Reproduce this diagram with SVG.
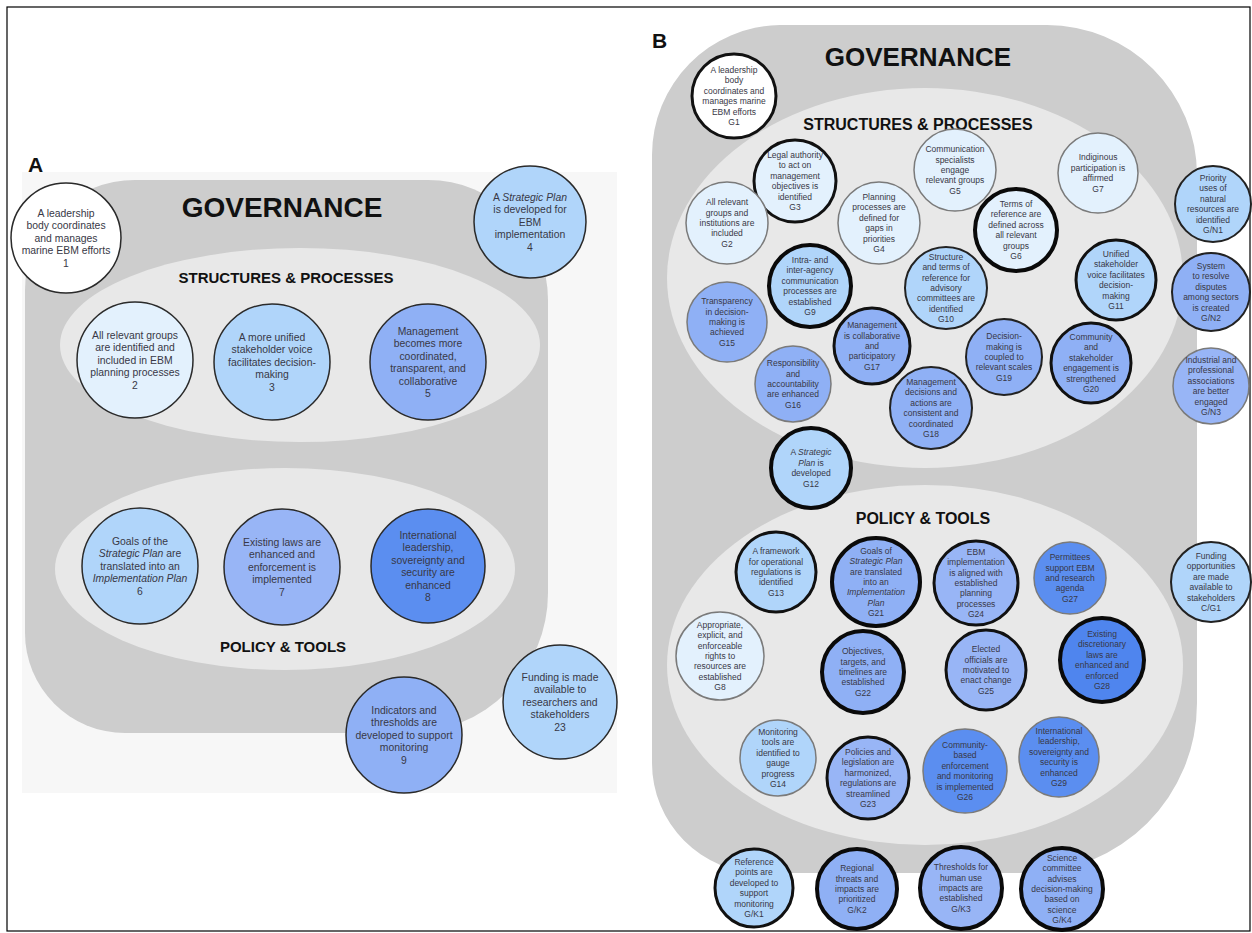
<svg xmlns="http://www.w3.org/2000/svg" width="1252" height="933" viewBox="0 0 1252 933">
<style>
.bg{fill:#ffffff}
.pan{fill:#f7f7f7}
.gray{fill:#cdcdcd}
.ell{fill:#e8e8e8}
.t{font-family:"Liberation Sans",Arial,sans-serif;fill:#383846;text-anchor:middle}
.ta{font-size:10.4px}
.tb{font-size:8.5px}
.h{font-family:"Liberation Sans",Arial,sans-serif;font-weight:bold;fill:#111;text-anchor:middle}
.lab{font-family:"Liberation Sans",Arial,sans-serif;font-weight:bold;fill:#111;font-size:21px}
.i{font-style:italic}
.w{fill:#ffffff}
.c0{fill:#e3f1fd}
.c1{fill:#b0d5fa}
.c2{fill:#8fb0f5}
.c3{fill:#98b5f6}
.c4{fill:#5b8ef0}
.c5{fill:#4f85ee}
.sa{stroke:#2a2a2a;stroke-width:1.5}
.s0{stroke:#7a7a7a;stroke-width:1.5}
.s1{stroke:#222;stroke-width:2}
.s2{stroke:#111;stroke-width:3}
.s3{stroke:#0a0a0a;stroke-width:4}
</style>
<rect class="bg" x="0" y="0" width="1252" height="933"/>
<rect x="7" y="7" width="1243" height="924" fill="none" stroke="#000" stroke-width="1.2"/>

<!-- Panel A -->
<g id="panelA">
<rect class="pan" x="22" y="172" width="595" height="621"/>
<path class="gray" d="M135 180 H428 A120 120 0 0 1 548 300 V593 A140 140 0 0 1 408 733 H125 A100 100 0 0 1 25 633 V290 A110 110 0 0 1 135 180 Z"/>
<ellipse class="ell" cx="300" cy="345" rx="240" ry="97"/>
<ellipse class="ell" cx="285" cy="569" rx="230" ry="101"/>
<text class="lab" x="28" y="172">A</text>
<text class="h" x="282" y="217" font-size="28">GOVERNANCE</text>
<text class="h" x="286" y="283" font-size="15">STRUCTURES &amp; PROCESSES</text>
<text class="h" x="283" y="652" font-size="15">POLICY &amp; TOOLS</text>
</g>

<g id="connectors"></g>

<g id="a1" transform="translate(66,238)"><circle r="55" class="w sa"/><text class="t ta"><tspan x="0" y="-21.3">A leadership</tspan><tspan x="0" y="-8.8">body coordinates</tspan><tspan x="0" y="3.7">and manages</tspan><tspan x="0" y="16.2">marine EBM efforts</tspan><tspan x="0" y="28.7">1</tspan></text></g>
<g id="a4" transform="translate(530,222)"><circle r="56" class="c1 sa"/><text class="t ta"><tspan x="0" y="-21.3">A <tspan class="i">Strategic Plan</tspan></tspan><tspan x="0" y="-8.8">is developed for</tspan><tspan x="0" y="3.7">EBM</tspan><tspan x="0" y="16.2">implementation</tspan><tspan x="0" y="28.7">4</tspan></text></g>
<g id="a2" transform="translate(135,360)"><circle r="58" class="c0 sa"/><text class="t ta"><tspan x="0" y="-21.3">All relevant groups</tspan><tspan x="0" y="-8.8">are identified and</tspan><tspan x="0" y="3.7">included in EBM</tspan><tspan x="0" y="16.2">planning processes</tspan><tspan x="0" y="28.7">2</tspan></text></g>
<g id="a3" transform="translate(272,362)"><circle r="58" class="c1 sa"/><text class="t ta"><tspan x="0" y="-21.3">A more unified</tspan><tspan x="0" y="-8.8">stakeholder voice</tspan><tspan x="0" y="3.7">facilitates decision-</tspan><tspan x="0" y="16.2">making</tspan><tspan x="0" y="28.7">3</tspan></text></g>
<g id="a5" transform="translate(428,362)"><circle r="58" class="c2 sa"/><text class="t ta"><tspan x="0" y="-27.5">Management</tspan><tspan x="0" y="-15">becomes more</tspan><tspan x="0" y="-2.5">coordinated,</tspan><tspan x="0" y="10">transparent, and</tspan><tspan x="0" y="22.5">collaborative</tspan><tspan x="0" y="35">5</tspan></text></g>
<g id="a6" transform="translate(140,566)"><circle r="58" class="c1 sa"/><text class="t ta"><tspan x="0" y="-21.3">Goals of the</tspan><tspan x="0" y="-8.8"><tspan class="i">Strategic Plan</tspan> are</tspan><tspan x="0" y="3.7">translated into an</tspan><tspan x="0" y="16.2" class="i">Implementation Plan</tspan><tspan x="0" y="28.7">6</tspan></text></g>
<g id="a7" transform="translate(282,567)"><circle r="58" class="c3 sa"/><text class="t ta"><tspan x="0" y="-21.3">Existing laws are</tspan><tspan x="0" y="-8.8">enhanced and</tspan><tspan x="0" y="3.7">enforcement is</tspan><tspan x="0" y="16.2">implemented</tspan><tspan x="0" y="28.7">7</tspan></text></g>
<g id="a8" transform="translate(428,566)"><circle r="57" class="c4 sa"/><text class="t ta"><tspan x="0" y="-27.5">International</tspan><tspan x="0" y="-15">leadership,</tspan><tspan x="0" y="-2.5">sovereignty and</tspan><tspan x="0" y="10">security are</tspan><tspan x="0" y="22.5">enhanced</tspan><tspan x="0" y="35">8</tspan></text></g>
<g id="a9" transform="translate(404,735)"><circle r="58" class="c2 sa"/><text class="t ta"><tspan x="0" y="-21.3">Indicators and</tspan><tspan x="0" y="-8.8">thresholds are</tspan><tspan x="0" y="3.7">developed to support</tspan><tspan x="0" y="16.2">monitoring</tspan><tspan x="0" y="28.7">9</tspan></text></g>
<g id="a23" transform="translate(560,702)"><circle r="57" class="c1 sa"/><text class="t ta"><tspan x="0" y="-21.3">Funding is made</tspan><tspan x="0" y="-8.8">available to</tspan><tspan x="0" y="3.7">researchers and</tspan><tspan x="0" y="16.2">stakeholders</tspan><tspan x="0" y="28.7">23</tspan></text></g>

<!-- Panel B -->
<g id="panelB">
<path class="gray" d="M780 25 H1047 A150 150 0 0 1 1197 175 V703 A170 170 0 0 1 1027 873 H762 A110 110 0 0 1 652 763 V155 A130 130 0 0 1 780 25 Z"/>
<ellipse class="ell" cx="925" cy="278" rx="258" ry="190"/>
<ellipse class="ell" cx="925" cy="665" rx="258" ry="180"/>
<text class="lab" x="652" y="48">B</text>
<text class="h" x="918" y="66" font-size="26">GOVERNANCE</text>
<text class="h" x="918" y="130" font-size="16">STRUCTURES &amp; PROCESSES</text>
<text class="h" x="923" y="524" font-size="16">POLICY &amp; TOOLS</text>
</g>

<g id="g1" transform="translate(734,96)"><circle r="42" class="w s2"/><text class="t tb"><tspan x="0" y="-23.1">A leadership</tspan><tspan x="0" y="-12.7">body</tspan><tspan x="0" y="-2.3">coordinates and</tspan><tspan x="0" y="8.1">manages marine</tspan><tspan x="0" y="18.5">EBM efforts</tspan><tspan x="0" y="28.9">G1</tspan></text></g>
<g id="g3" transform="translate(795,181)"><circle r="41" class="c0 s2"/><text class="t tb"><tspan x="0" y="-23.1">Legal authority</tspan><tspan x="0" y="-12.7">to act on</tspan><tspan x="0" y="-2.3">management</tspan><tspan x="0" y="8.1">objectives is</tspan><tspan x="0" y="18.5">identified</tspan><tspan x="0" y="28.9">G3</tspan></text></g>
<g id="g5" transform="translate(955,170)"><circle r="41" class="c0 s0"/><text class="t tb"><tspan x="0" y="-17.9">Communication</tspan><tspan x="0" y="-7.5">specialists</tspan><tspan x="0" y="2.9">engage</tspan><tspan x="0" y="13.3">relevant groups</tspan><tspan x="0" y="23.7">G5</tspan></text></g>
<g id="g7" transform="translate(1098,173)"><circle r="40" class="c0 s0"/><text class="t tb"><tspan x="0" y="-12.7">Indiginous</tspan><tspan x="0" y="-2.3">participation is</tspan><tspan x="0" y="8.1">affirmed</tspan><tspan x="0" y="18.5">G7</tspan></text></g>
<g id="g2" transform="translate(727,223)"><circle r="41" class="c0 s0"/><text class="t tb"><tspan x="0" y="-17.9">All relevant</tspan><tspan x="0" y="-7.5">groups and</tspan><tspan x="0" y="2.9">institutions are</tspan><tspan x="0" y="13.3">included</tspan><tspan x="0" y="23.7">G2</tspan></text></g>
<g id="g4" transform="translate(879,223)"><circle r="41" class="c0 s0"/><text class="t tb"><tspan x="0" y="-23.1">Planning</tspan><tspan x="0" y="-12.7">processes are</tspan><tspan x="0" y="-2.3">defined for</tspan><tspan x="0" y="8.1">gaps in</tspan><tspan x="0" y="18.5">priorities</tspan><tspan x="0" y="28.9">G4</tspan></text></g>
<g id="g6" transform="translate(1016,230)"><circle r="41" class="c0 s3"/><text class="t tb"><tspan x="0" y="-23.1">Terms of</tspan><tspan x="0" y="-12.7">reference are</tspan><tspan x="0" y="-2.3">defined across</tspan><tspan x="0" y="8.1">all relevant</tspan><tspan x="0" y="18.5">groups</tspan><tspan x="0" y="28.9">G6</tspan></text></g>
<g id="gn1" transform="translate(1213,204)"><circle r="38" class="c1 s1"/><text class="t tb"><tspan x="0" y="-23.1">Priority</tspan><tspan x="0" y="-12.7">uses of</tspan><tspan x="0" y="-2.3">natural</tspan><tspan x="0" y="8.1">resources are</tspan><tspan x="0" y="18.5">identified</tspan><tspan x="0" y="28.9">G/N1</tspan></text></g>
<g id="g9" transform="translate(810,286)"><circle r="41" class="c1 s3"/><text class="t tb"><tspan x="0" y="-23.1">Intra- and</tspan><tspan x="0" y="-12.7">inter-agency</tspan><tspan x="0" y="-2.3">communication</tspan><tspan x="0" y="8.1">processes are</tspan><tspan x="0" y="18.5">established</tspan><tspan x="0" y="28.9">G9</tspan></text></g>
<g id="g10" transform="translate(946,288)"><circle r="41" class="c1 s1"/><text class="t tb"><tspan x="0" y="-28.3">Structure</tspan><tspan x="0" y="-17.9">and terms of</tspan><tspan x="0" y="-7.5">reference for</tspan><tspan x="0" y="2.9">advisory</tspan><tspan x="0" y="13.3">committees are</tspan><tspan x="0" y="23.7">identified</tspan><tspan x="0" y="34.1">G10</tspan></text></g>
<g id="g11" transform="translate(1116,280)"><circle r="40" class="c1 s2"/><text class="t tb"><tspan x="0" y="-23.1">Unified</tspan><tspan x="0" y="-12.7">stakeholder</tspan><tspan x="0" y="-2.3">voice facilitates</tspan><tspan x="0" y="8.1">decision-</tspan><tspan x="0" y="18.5">making</tspan><tspan x="0" y="28.9">G11</tspan></text></g>
<g id="gn2" transform="translate(1211,292)"><circle r="39" class="c2 s1"/><text class="t tb"><tspan x="0" y="-23.1">System</tspan><tspan x="0" y="-12.7">to resolve</tspan><tspan x="0" y="-2.3">disputes</tspan><tspan x="0" y="8.1">among sectors</tspan><tspan x="0" y="18.5">is created</tspan><tspan x="0" y="28.9">G/N2</tspan></text></g>
<g id="g15" transform="translate(727,322)"><circle r="40" class="c2 s0"/><text class="t tb"><tspan x="0" y="-17.9">Transparency</tspan><tspan x="0" y="-7.5">in decision-</tspan><tspan x="0" y="2.9">making is</tspan><tspan x="0" y="13.3">achieved</tspan><tspan x="0" y="23.7">G15</tspan></text></g>
<g id="g17" transform="translate(872,346)"><circle r="38" class="c2 s2"/><text class="t tb"><tspan x="0" y="-17.9">Management</tspan><tspan x="0" y="-7.5">is collaborative</tspan><tspan x="0" y="2.9">and</tspan><tspan x="0" y="13.3">participatory</tspan><tspan x="0" y="23.7">G17</tspan></text></g>
<g id="g16" transform="translate(793,384)"><circle r="38" class="c2 s0"/><text class="t tb"><tspan x="0" y="-17.9">Responsibility</tspan><tspan x="0" y="-7.5">and</tspan><tspan x="0" y="2.9">accountability</tspan><tspan x="0" y="13.3">are enhanced</tspan><tspan x="0" y="23.7">G16</tspan></text></g>
<g id="g19" transform="translate(1004,357)"><circle r="38" class="c2 s1"/><text class="t tb"><tspan x="0" y="-17.9">Decision-</tspan><tspan x="0" y="-7.5">making is</tspan><tspan x="0" y="2.9">coupled to</tspan><tspan x="0" y="13.3">relevant scales</tspan><tspan x="0" y="23.7">G19</tspan></text></g>
<g id="g20" transform="translate(1091,363)"><circle r="40" class="c2 s2"/><text class="t tb"><tspan x="0" y="-23.1">Community</tspan><tspan x="0" y="-12.7">and</tspan><tspan x="0" y="-2.3">stakeholder</tspan><tspan x="0" y="8.1">engagement is</tspan><tspan x="0" y="18.5">strengthened</tspan><tspan x="0" y="28.9">G20</tspan></text></g>
<g id="g18" transform="translate(931,408)"><circle r="41" class="c2 s1"/><text class="t tb"><tspan x="0" y="-23.1">Management</tspan><tspan x="0" y="-12.7">decisions and</tspan><tspan x="0" y="-2.3">actions are</tspan><tspan x="0" y="8.1">consistent and</tspan><tspan x="0" y="18.5">coordinated</tspan><tspan x="0" y="28.9">G18</tspan></text></g>
<g id="gn3" transform="translate(1211,386)"><circle r="38" class="c3 s0"/><text class="t tb"><tspan x="0" y="-23.1">Industrial and</tspan><tspan x="0" y="-12.7">professional</tspan><tspan x="0" y="-2.3">associations</tspan><tspan x="0" y="8.1">are better</tspan><tspan x="0" y="18.5">engaged</tspan><tspan x="0" y="28.9">G/N3</tspan></text></g>
<g id="g12" transform="translate(811,468)"><circle r="40" class="c1 s3"/><text class="t tb"><tspan x="0" y="-12.7">A <tspan class="i">Strategic</tspan></tspan><tspan x="0" y="-2.3"><tspan class="i">Plan</tspan> is</tspan><tspan x="0" y="8.1">developed</tspan><tspan x="0" y="18.5">G12</tspan></text></g>
<g id="g13" transform="translate(776,572)"><circle r="40" class="c1 s2"/><text class="t tb"><tspan x="0" y="-17.9">A framework</tspan><tspan x="0" y="-7.5">for operational</tspan><tspan x="0" y="2.9">regulations is</tspan><tspan x="0" y="13.3">identified</tspan><tspan x="0" y="23.7">G13</tspan></text></g>
<g id="g21" transform="translate(876,582)"><circle r="44" class="c2 s3"/><text class="t tb"><tspan x="0" y="-28.3">Goals of</tspan><tspan x="0" y="-17.9" class="i">Strategic Plan</tspan><tspan x="0" y="-7.5">are translated</tspan><tspan x="0" y="2.9">into an</tspan><tspan x="0" y="13.3" class="i">Implementation</tspan><tspan x="0" y="23.7" class="i">Plan</tspan><tspan x="0" y="34.1">G21</tspan></text></g>
<g id="g24" transform="translate(976,583)"><circle r="42" class="c3 s2"/><text class="t tb"><tspan x="0" y="-28.3">EBM</tspan><tspan x="0" y="-17.9">implementation</tspan><tspan x="0" y="-7.5">is aligned with</tspan><tspan x="0" y="2.9">established</tspan><tspan x="0" y="13.3">planning</tspan><tspan x="0" y="23.7">processes</tspan><tspan x="0" y="34.1">G24</tspan></text></g>
<g id="g27" transform="translate(1070,578)"><circle r="36" class="c4 s0"/><text class="t tb"><tspan x="0" y="-17.9">Permittees</tspan><tspan x="0" y="-7.5">support EBM</tspan><tspan x="0" y="2.9">and research</tspan><tspan x="0" y="13.3">agenda</tspan><tspan x="0" y="23.7">G27</tspan></text></g>
<g id="cg1" transform="translate(1211,582)"><circle r="40" class="c1 s1"/><text class="t tb"><tspan x="0" y="-23.1">Funding</tspan><tspan x="0" y="-12.7">opportunities</tspan><tspan x="0" y="-2.3">are made</tspan><tspan x="0" y="8.1">available to</tspan><tspan x="0" y="18.5">stakeholders</tspan><tspan x="0" y="28.9">C/G1</tspan></text></g>
<g id="g8" transform="translate(720,656)"><circle r="44" class="c0 s0"/><text class="t tb"><tspan x="0" y="-28.3">Appropriate,</tspan><tspan x="0" y="-17.9">explicit, and</tspan><tspan x="0" y="-7.5">enforceable</tspan><tspan x="0" y="2.9">rights to</tspan><tspan x="0" y="13.3">resources are</tspan><tspan x="0" y="23.7">established</tspan><tspan x="0" y="34.1">G8</tspan></text></g>
<g id="g22" transform="translate(863,672)"><circle r="41" class="c2 s3"/><text class="t tb"><tspan x="0" y="-17.9">Objectives,</tspan><tspan x="0" y="-7.5">targets, and</tspan><tspan x="0" y="2.9">timelines are</tspan><tspan x="0" y="13.3">established</tspan><tspan x="0" y="23.7">G22</tspan></text></g>
<g id="g25" transform="translate(986,670)"><circle r="40" class="c3 s2"/><text class="t tb"><tspan x="0" y="-17.9">Elected</tspan><tspan x="0" y="-7.5">officials are</tspan><tspan x="0" y="2.9">motivated to</tspan><tspan x="0" y="13.3">enact change</tspan><tspan x="0" y="23.7">G25</tspan></text></g>
<g id="g28" transform="translate(1102,660)"><circle r="42" class="c5 s3"/><text class="t tb"><tspan x="0" y="-23.1">Existing</tspan><tspan x="0" y="-12.7">discretionary</tspan><tspan x="0" y="-2.3">laws are</tspan><tspan x="0" y="8.1">enhanced and</tspan><tspan x="0" y="18.5">enforced</tspan><tspan x="0" y="28.9">G28</tspan></text></g>
<g id="g14" transform="translate(778,758)"><circle r="38" class="c1 s0"/><text class="t tb"><tspan x="0" y="-23.1">Monitoring</tspan><tspan x="0" y="-12.7">tools are</tspan><tspan x="0" y="-2.3">identified to</tspan><tspan x="0" y="8.1">gauge</tspan><tspan x="0" y="18.5">progress</tspan><tspan x="0" y="28.9">G14</tspan></text></g>
<g id="g23" transform="translate(868,778)"><circle r="41" class="c3 s2"/><text class="t tb"><tspan x="0" y="-23.1">Policies and</tspan><tspan x="0" y="-12.7">legislation are</tspan><tspan x="0" y="-2.3">harmonized,</tspan><tspan x="0" y="8.1">regulations are</tspan><tspan x="0" y="18.5">streamlined</tspan><tspan x="0" y="28.9">G23</tspan></text></g>
<g id="g26" transform="translate(965,771)"><circle r="42" class="c4 s0"/><text class="t tb"><tspan x="0" y="-23.1">Community-</tspan><tspan x="0" y="-12.7">based</tspan><tspan x="0" y="-2.3">enforcement</tspan><tspan x="0" y="8.1">and monitoring</tspan><tspan x="0" y="18.5">is implemented</tspan><tspan x="0" y="28.9">G26</tspan></text></g>
<g id="g29" transform="translate(1059,757)"><circle r="40" class="c4 s0"/><text class="t tb"><tspan x="0" y="-23.1">International</tspan><tspan x="0" y="-12.7">leadership,</tspan><tspan x="0" y="-2.3">sovereignty and</tspan><tspan x="0" y="8.1">security is</tspan><tspan x="0" y="18.5">enhanced</tspan><tspan x="0" y="28.9">G29</tspan></text></g>
<g id="gk1" transform="translate(754,888)"><circle r="39" class="c1 s2"/><text class="t tb"><tspan x="0" y="-23.1">Reference</tspan><tspan x="0" y="-12.7">points are</tspan><tspan x="0" y="-2.3">developed to</tspan><tspan x="0" y="8.1">support</tspan><tspan x="0" y="18.5">monitoring</tspan><tspan x="0" y="28.9">G/K1</tspan></text></g>
<g id="gk2" transform="translate(857,889)"><circle r="40" class="c2 s3"/><text class="t tb"><tspan x="0" y="-17.9">Regional</tspan><tspan x="0" y="-7.5">threats and</tspan><tspan x="0" y="2.9">impacts are</tspan><tspan x="0" y="13.3">prioritized</tspan><tspan x="0" y="23.7">G/K2</tspan></text></g>
<g id="gk3" transform="translate(961,888)"><circle r="41" class="c3 s3"/><text class="t tb"><tspan x="0" y="-17.9">Thresholds for</tspan><tspan x="0" y="-7.5">human use</tspan><tspan x="0" y="2.9">impacts are</tspan><tspan x="0" y="13.3">established</tspan><tspan x="0" y="23.7">G/K3</tspan></text></g>
<g id="gk4" transform="translate(1062,889)"><circle r="41" class="c2 s3"/><text class="t tb"><tspan x="0" y="-28.3">Science</tspan><tspan x="0" y="-17.9">committee</tspan><tspan x="0" y="-7.5">advises</tspan><tspan x="0" y="2.9">decision-making</tspan><tspan x="0" y="13.3">based on</tspan><tspan x="0" y="23.7">science</tspan><tspan x="0" y="34.1">G/K4</tspan></text></g>
</svg>
